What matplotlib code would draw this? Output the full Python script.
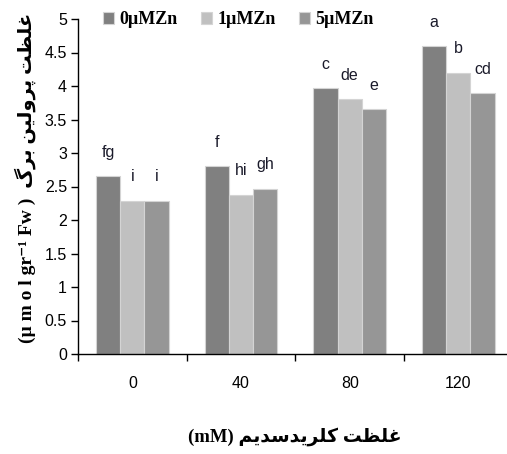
import matplotlib
matplotlib.use("Agg")
import matplotlib.pyplot as plt
import numpy as np

# ---- data -------------------------------------------------------------
nacl_levels = ["0", "40", "80", "120"]
series_names = ["0µMZn", "1µMZn", "5µMZn"]
zn0 = [2.65, 2.81, 3.97, 4.59]
zn1 = [2.29, 2.38, 3.80, 4.20]
zn5 = [2.29, 2.47, 3.66, 3.90]
letters_zn0 = ["fg", "f", "c", "a"]
letters_zn1 = ["i", "hi", "de", "b"]
letters_zn5 = ["i", "gh", "e", "cd"]
y_ticks = [0, 0.5, 1, 1.5, 2, 2.5, 3, 3.5, 4, 4.5, 5]

colors = ["#808080", "#c0c0c0", "#969696"]

# ---- minimal Persian shaping (presentation forms, visual order) -------
# forms: (isolated, final, initial, medial); right-joining letters have two
FORMS = {
    "غ": ("\uFECD", "\uFECE", "\uFECF", "\uFED0"),
    "ل": ("\uFEDD", "\uFEDE", "\uFEDF", "\uFEE0"),
    "ظ": ("\uFEC5", "\uFEC6", "\uFEC7", "\uFEC8"),
    "ت": ("\uFE95", "\uFE96", "\uFE97", "\uFE98"),
    "پ": ("\uFB56", "\uFB57", "\uFB58", "\uFB59"),
    "ی": ("\uFBFC", "\uFBFD", "\uFBFE", "\uFBFF"),
    "ن": ("\uFEE5", "\uFEE6", "\uFEE7", "\uFEE8"),
    "ب": ("\uFE8F", "\uFE90", "\uFE91", "\uFE92"),
    "گ": ("\uFB92", "\uFB93", "\uFB94", "\uFB95"),
    "ک": ("\uFB8E", "\uFB8F", "\uFB90", "\uFB91"),
    "س": ("\uFEB1", "\uFEB2", "\uFEB3", "\uFEB4"),
    "م": ("\uFEE1", "\uFEE2", "\uFEE3", "\uFEE4"),
    "ر": ("\uFEAD", "\uFEAE"),
    "و": ("\uFEED", "\uFEEE"),
    "د": ("\uFEA9", "\uFEAA"),
}


def shape_rtl(text):
    out = []
    for i, ch in enumerate(text):
        f = FORMS.get(ch)
        if f is None:
            out.append(ch)
            continue
        prev = text[i - 1] if i > 0 else ""
        nxt = text[i + 1] if i + 1 < len(text) else ""
        join_prev = prev in FORMS and len(FORMS[prev]) == 4
        join_next = len(f) == 4 and nxt in FORMS
        if join_prev and join_next:
            out.append(f[3])
        elif join_prev:
            out.append(f[1])
        elif join_next:
            out.append(f[2])
        else:
            out.append(f[0])
    return "".join(out)[::-1]


ylabel_text = "(µ m o l gr⁻¹ Fw )  " + shape_rtl("غلظت پرولین برگ")
xlabel_text = "(mM) " + shape_rtl("غلظت کلریدسدیم")

# ---- figure -----------------------------------------------------------
W, H = 507, 454
fig = plt.figure(figsize=(W / 100, H / 100), dpi=100)
left_px, right_px, top_px, bottom_px = 78, 512.7, 19, 354
ax = fig.add_axes([left_px / W, 1 - bottom_px / H,
                   (right_px - left_px) / W, (bottom_px - top_px) / H])

x = np.arange(len(nacl_levels))
bw = 0.222
series = [zn0, zn1, zn5]
letters = [letters_zn0, letters_zn1, letters_zn5]
for k, (vals, labs) in enumerate(zip(series, letters)):
    xs = x + (k - 1) * bw
    ax.bar(xs, vals, width=bw, color=colors[k], edgecolor="#d4d4d4",
           linewidth=0.8, label=series_names[k])
    for xi, v, lab in zip(xs, vals, labs):
        ax.annotate(lab, (xi, v), xytext=(0, 17), textcoords="offset points",
                    ha="center", va="center", fontsize=11.5,
                    family="Liberation Sans", color="#1a1a2a")

ax.set_xlim(-0.5, 3.5)
ax.set_ylim(0, 5)
ax.set_yticks(y_ticks)
ax.set_yticklabels([f"{t:g}" for t in y_ticks], family="Liberation Sans",
                   fontsize=11.5)
ax.set_xticks(np.arange(-0.5, 3.6, 1.0))
ax.set_xticklabels([])
ax.set_xticks(x, minor=True)
ax.set_xticklabels(nacl_levels, minor=True, family="Liberation Sans",
                   fontsize=11.5)
ax.tick_params(axis="x", which="major", direction="out", length=5, width=1)
ax.tick_params(axis="x", which="minor", length=0, pad=16)
ax.tick_params(axis="y", direction="out", length=5, width=1, pad=3)
for s in ("top", "right"):
    ax.spines[s].set_visible(False)
for s in ("left", "bottom"):
    ax.spines[s].set_linewidth(1)

leg = fig.legend(loc="center left", bbox_to_anchor=(103 / W, 1 - 20 / H),
                 ncol=3, frameon=False, borderpad=0, borderaxespad=0,
                 handlelength=0.6, handleheight=0.6, handletextpad=0.3,
                 columnspacing=1.3,
                 prop={"family": "Liberation Serif", "weight": "bold",
                       "size": 13})

fig.text(25 / W, 1 - 178 / H, ylabel_text, rotation=90, ha="center",
         va="center", fontsize=14, fontweight="bold",
         family=["Liberation Serif", "DejaVu Sans"])
fig.text(295 / W, 1 - 437 / H, xlabel_text, ha="center", va="center",
         fontsize=13.5, fontweight="bold",
         family=["Liberation Serif", "DejaVu Sans"])

fig.savefig("out.png", dpi=100)
